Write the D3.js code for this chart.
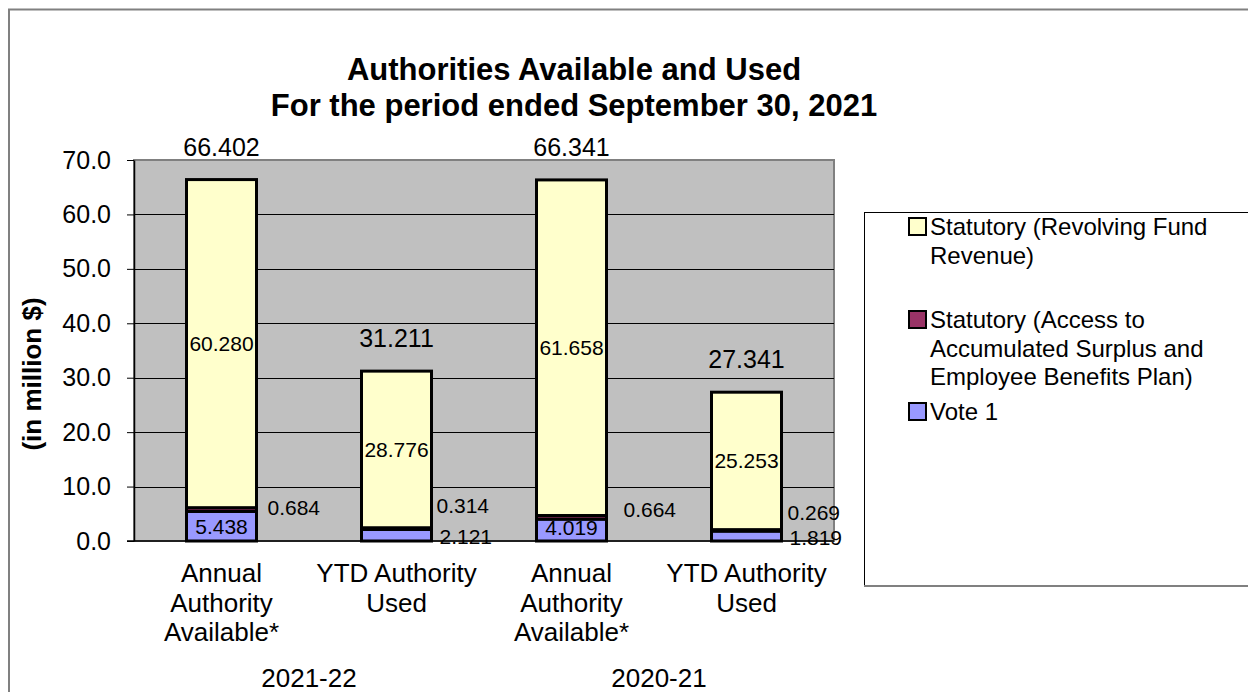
<!DOCTYPE html>
<html><head><meta charset="utf-8">
<script src="https://cdn.jsdelivr.net/npm/d3@7"></script>
<style>
html,body{margin:0;padding:0;background:#fff;}
svg{display:block;font-family:"Liberation Sans",Arial,sans-serif;}
</style></head>
<body>
<svg id="chart" width="1248" height="692"></svg>
<script>
// ---- data ----
const categoryIds = ["a2122", "y2122", "a2021", "y2021"];
const categoryLines = [
  ["Annual", "Authority", "Available*"],
  ["YTD Authority", "Used"],
  ["Annual", "Authority", "Available*"],
  ["YTD Authority", "Used"]
];
const groupLabels = ["2021-22", "2020-21"];
const seriesNames = [
  "Vote 1",
  "Statutory (Access to Accumulated Surplus and Employee Benefits Plan)",
  "Statutory (Revolving Fund Revenue)"
];
const vote1 = [5.438, 2.121, 4.019, 1.819];
const statAccess = [0.684, 0.314, 0.664, 0.269];
const statRevolving = [60.280, 28.776, 61.658, 25.253];
const totals = [66.402, 31.211, 66.341, 27.341];
const yTicks = [0, 10, 20, 30, 40, 50, 60, 70];
const legendLines = [
  ["Statutory (Revolving Fund", "Revenue)"],
  ["Statutory (Access to", "Accumulated Surplus and", "Employee Benefits Plan)"],
  ["Vote 1"]
];

// ---- styles / layout ----
const colors = ["#9999FF", "#993366", "#FFFFCC"];
const font = "'Liberation Sans', Arial, sans-serif";
const plot = {left: 134, right: 834, top: 160, bottom: 541};
// label offsets for the small segment labels (style only): [dx from bar right, dy from segment centre]
const vote1LabelOffset = [[0, 0, "in"], [8, 1, "out"], [0, -2, "in"], [8, 1.5, "out"]];
const accessLabelOffset = [[11, -1.5], [5, -22.5], [17, -8], [6, -18]];

const svg = d3.select("#chart");

// outer border
svg.append("rect").attr("x", 9).attr("y", 9.5).attr("width", 1260).attr("height", 700)
  .attr("fill", "none").attr("stroke", "#808080").attr("stroke-width", 2);

const rows = categoryIds.map((id, i) => ({
  id, vote1: vote1[i], access: statAccess[i], revolving: statRevolving[i]
}));
const keys = ["vote1", "access", "revolving"];
const stacked = d3.stack().keys(keys)(rows);

const x = d3.scaleBand().domain(categoryIds).range([plot.left, plot.right])
  .paddingInner(0.6).paddingOuter(0.3);
const y = d3.scaleLinear().domain([0, 70]).range([plot.bottom, plot.top]);

// plot background
svg.append("rect").attr("x", plot.left).attr("y", plot.top)
  .attr("width", plot.right - plot.left).attr("height", plot.bottom - plot.top)
  .attr("fill", "#C0C0C0").attr("stroke", "#808080").attr("stroke-width", 2);

// gridlines
svg.append("g").selectAll("line").data(yTicks.filter(d => d > 0 && d < 70)).join("line")
  .attr("x1", plot.left).attr("x2", plot.right)
  .attr("y1", d => Math.round(y(d)) + 0.5).attr("y2", d => Math.round(y(d)) + 0.5)
  .attr("stroke", "#000").attr("stroke-width", 1);

// y axis
const yAxis = d3.axisLeft(y).tickValues(yTicks).tickFormat(d3.format(".1f")).tickSizeInner(7).tickSizeOuter(0).tickPadding(16);
const yg = svg.append("g").attr("transform", `translate(${plot.left},0)`).call(yAxis);
yg.select(".domain").attr("stroke", "#000").attr("stroke-width", 1.5);
yg.selectAll(".tick line").attr("stroke", "#000");
yg.selectAll(".tick text").attr("font-size", 25).attr("font-family", font).attr("fill", "#000");

// bottom axis line
svg.append("line").attr("x1", plot.left - 7).attr("x2", plot.right)
  .attr("y1", plot.bottom).attr("y2", plot.bottom).attr("stroke", "#000").attr("stroke-width", 1.5);

// bars
const layers = svg.append("g").selectAll("g").data(stacked).join("g")
  .attr("fill", (d, i) => colors[i]);
layers.selectAll("rect").data(d => d).join("rect")
  .attr("x", d => x(d.data.id))
  .attr("y", d => y(d[1]))
  .attr("width", x.bandwidth())
  .attr("height", d => y(d[0]) - y(d[1]))
  .attr("stroke", "#000").attr("stroke-width", 3);

// value labels
const lab = svg.append("g").attr("font-family", font).attr("fill", "#000");
stacked[2].forEach((d, i) => {
  lab.append("text").attr("x", x(d.data.id) + x.bandwidth() / 2)
    .attr("y", y((d[0] + d[1]) / 2)).attr("dy", "0.35em")
    .attr("text-anchor", "middle").attr("font-size", 21)
    .text(d3.format(".3f")(statRevolving[i]));
});
stacked[0].forEach((d, i) => {
  const o = vote1LabelOffset[i];
  const inside = o[2] === "in";
  lab.append("text")
    .attr("x", inside ? x(d.data.id) + x.bandwidth() / 2 : x(d.data.id) + x.bandwidth() + o[0])
    .attr("y", y((d[0] + d[1]) / 2) + o[1]).attr("dy", "0.35em")
    .attr("text-anchor", inside ? "middle" : "start").attr("font-size", 21)
    .text(d3.format(".3f")(vote1[i]));
});
stacked[1].forEach((d, i) => {
  const o = accessLabelOffset[i];
  lab.append("text")
    .attr("x", x(d.data.id) + x.bandwidth() + o[0])
    .attr("y", y((d[0] + d[1]) / 2) + o[1]).attr("dy", "0.35em")
    .attr("text-anchor", "start").attr("font-size", 21)
    .text(d3.format(".3f")(statAccess[i]));
});
categoryIds.forEach((id, i) => {
  lab.append("text").attr("x", x(id) + x.bandwidth() / 2)
    .attr("y", y(totals[i]) - 24)
    .attr("text-anchor", "middle").attr("font-size", 25)
    .text(d3.format(".3f")(totals[i]));
});

// category labels
categoryIds.forEach((id, i) => {
  const t = svg.append("text").attr("font-family", font).attr("font-size", 26)
    .attr("text-anchor", "middle").attr("fill", "#000");
  categoryLines[i].forEach((line, j) => {
    t.append("tspan").attr("x", x(id) + x.bandwidth() / 2).attr("y", 582 + j * 29.5).text(line);
  });
});
groupLabels.forEach((g, k) => {
  const cx = (x(categoryIds[2 * k]) + x(categoryIds[2 * k + 1]) + x.bandwidth()) / 2;
  svg.append("text").attr("font-family", font).attr("font-size", 26)
    .attr("text-anchor", "middle").attr("x", cx).attr("y", 687).text(g);
});

// y axis title
svg.append("text").attr("font-family", font).attr("font-size", 26).attr("font-weight", "bold")
  .attr("text-anchor", "middle")
  .attr("transform", `translate(41,374) rotate(-90)`)
  .text("(in million $)");

// title
const title = svg.append("text").attr("font-family", font).attr("font-size", 31).attr("font-weight", "bold")
  .attr("text-anchor", "middle");
title.append("tspan").attr("x", 574).attr("y", 80).text("Authorities Available and Used");
title.append("tspan").attr("x", 574).attr("y", 116).text("For the period ended September 30, 2021");

// legend
const lg = svg.append("g");
lg.append("rect").attr("x", 864.5).attr("y", 212.5).attr("width", 420).attr("height", 373)
  .attr("fill", "#fff").attr("stroke", "#000").attr("stroke-width", 1);
lg.append("line").attr("x1", 864).attr("x2", 1260).attr("y1", 586).attr("y2", 586)
  .attr("stroke", "#808080").attr("stroke-width", 2);
const legendOrder = [2, 1, 0];
const legendY = [235, 328, 420];
legendOrder.forEach((si, k) => {
  lg.append("rect").attr("x", 909).attr("y", legendY[k] - 17).attr("width", 17).attr("height", 17)
    .attr("fill", colors[si]).attr("stroke", "#000").attr("stroke-width", 2);
  const t = lg.append("text").attr("font-family", font).attr("font-size", 24).attr("fill", "#000");
  legendLines[k].forEach((line, j) => {
    t.append("tspan").attr("x", 930).attr("y", legendY[k] + j * 28.5).text(line);
  });
});
</script>
</body></html>
